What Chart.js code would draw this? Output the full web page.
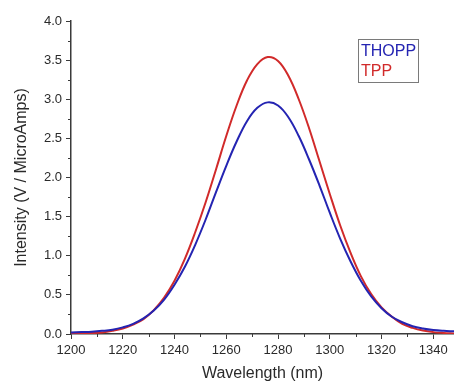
<!DOCTYPE html>
<html>
<head>
<meta charset="utf-8">
<script src="https://cdn.jsdelivr.net/npm/chart.js@4.4.1/dist/chart.umd.min.js"></script>
<style>
  html, body { margin: 0; padding: 0; background: #fff; }
  #wrap { width: 454px; height: 383px; }
</style>
</head>
<body>
<div id="wrap"><canvas id="spectre" width="454" height="383"></canvas></div>
<script>
const wavelength = [1200, 1204, 1208, 1212, 1216, 1220, 1224, 1228, 1232, 1236,
                    1240, 1244, 1248, 1252, 1256, 1260, 1264, 1268, 1272, 1276,
                    1280, 1284, 1288, 1292, 1296, 1300, 1304, 1308, 1312, 1316,
                    1320, 1324, 1328, 1332, 1336, 1340, 1344, 1348];

// THOPP (bleu)
const thopp = [0.02, 0.025, 0.03, 0.04, 0.055, 0.085, 0.13, 0.20, 0.30, 0.44,
               0.63, 0.86, 1.14, 1.46, 1.81, 2.15, 2.46, 2.72, 2.89, 2.96,
               2.92, 2.77, 2.53, 2.23, 1.90, 1.55, 1.22, 0.93, 0.68, 0.48,
               0.33, 0.22, 0.15, 0.10, 0.07, 0.05, 0.04, 0.035];

// TPP (rouge)
const tpp = [0.005, 0.008, 0.012, 0.02, 0.04, 0.07, 0.12, 0.19, 0.305, 0.465,
             0.68, 0.96, 1.30, 1.68, 2.10, 2.53, 2.92, 3.24, 3.45, 3.54,
             3.49, 3.30, 3.00, 2.63, 2.21, 1.79, 1.39, 1.04, 0.74, 0.51,
             0.34, 0.22, 0.13, 0.078, 0.044, 0.024, 0.013, 0.006];

const seriesNames = ['THOPP', 'TPP'];
const seriesColors = ['#2424b2', '#d12a2a'];

const xTitle = 'Wavelength (nm)';
const yTitle = 'Intensity (V / MicroAmps)';

const police = "'Liberation Sans', Arial, sans-serif";
const axeCouleur = '#3a3a3a';

function points(ys) {
    return wavelength.map((x, i) => ({ x: x, y: ys[i] }));
}

// petites graduations (mineures) + légende encadrée
const extras = {
    id: 'extras',
    afterDraw(chart) {
        const c = chart.ctx;
        const sx = chart.scales.x, sy = chart.scales.y;
        const area = chart.chartArea;
        c.save();
        c.strokeStyle = axeCouleur;
        c.lineWidth = 1;
        for (let v = 0.25; v < 4; v += 0.5) {
            const py = Math.round(sy.getPixelForValue(v)) + 0.5;
            c.beginPath();
            c.moveTo(area.left - 3, py);
            c.lineTo(area.left, py);
            c.stroke();
        }
        for (let v = 1210; v <= 1348; v += 20) {
            const px = Math.round(sx.getPixelForValue(v)) + 0.5;
            c.beginPath();
            c.moveTo(px, area.bottom);
            c.lineTo(px, area.bottom + 3);
            c.stroke();
        }
        // légende
        c.strokeStyle = '#7a7a7a';
        c.strokeRect(358.5, 39.5, 60, 43);
        c.font = '16px ' + police;
        c.textBaseline = 'alphabetic';
        chart.data.datasets.forEach((ds, i) => {
            c.fillStyle = ds.borderColor;
            c.fillText(ds.label, 361, 56 + i * 20);
        });
        c.restore();
    }
};

new Chart(document.getElementById('spectre'), {
    type: 'line',
    data: {
        datasets: [
            { label: seriesNames[0], data: points(thopp), borderColor: seriesColors[0], borderWidth: 2, pointRadius: 0, tension: 0.4, fill: false },
            { label: seriesNames[1], data: points(tpp), borderColor: seriesColors[1], borderWidth: 2, pointRadius: 0, tension: 0.4, fill: false }
        ]
    },
    options: {
        responsive: false,
        animation: false,
        devicePixelRatio: 1,
        layout: { padding: { top: 21, right: 0, bottom: 0, left: 0 } },
        plugins: {
            legend: { display: false },
            tooltip: { enabled: false }
        },
        scales: {
            x: {
                type: 'linear',
                min: 1200,
                max: 1348,
                afterFit: s => { s.height = 49; },
                border: { color: axeCouleur, width: 1.5 },
                grid: { drawOnChartArea: false, tickLength: 5, tickColor: axeCouleur, tickWidth: 1 },
                ticks: { stepSize: 20, includeBounds: false, padding: 4, color: '#2a2a2a', font: { family: police, size: 13 }, maxRotation: 0, callback: v => String(v) },
                title: { display: true, text: xTitle, color: '#2a2a2a', font: { family: police, size: 16 }, padding: { top: 0, bottom: 0 } }
            },
            y: {
                min: 0,
                max: 4,
                afterFit: s => { s.width = 71; },
                border: { color: axeCouleur, width: 1.5 },
                grid: { drawOnChartArea: false, tickLength: 5, tickColor: axeCouleur, tickWidth: 1 },
                ticks: { stepSize: 0.5, padding: 4, color: '#2a2a2a', font: { family: police, size: 13 }, callback: v => v.toFixed(1) },
                title: { display: true, text: yTitle, color: '#2a2a2a', font: { family: police, size: 16 }, padding: { top: 12, bottom: 0 } }
            }
        }
    },
    plugins: [extras]
});
</script>
</body>
</html>
